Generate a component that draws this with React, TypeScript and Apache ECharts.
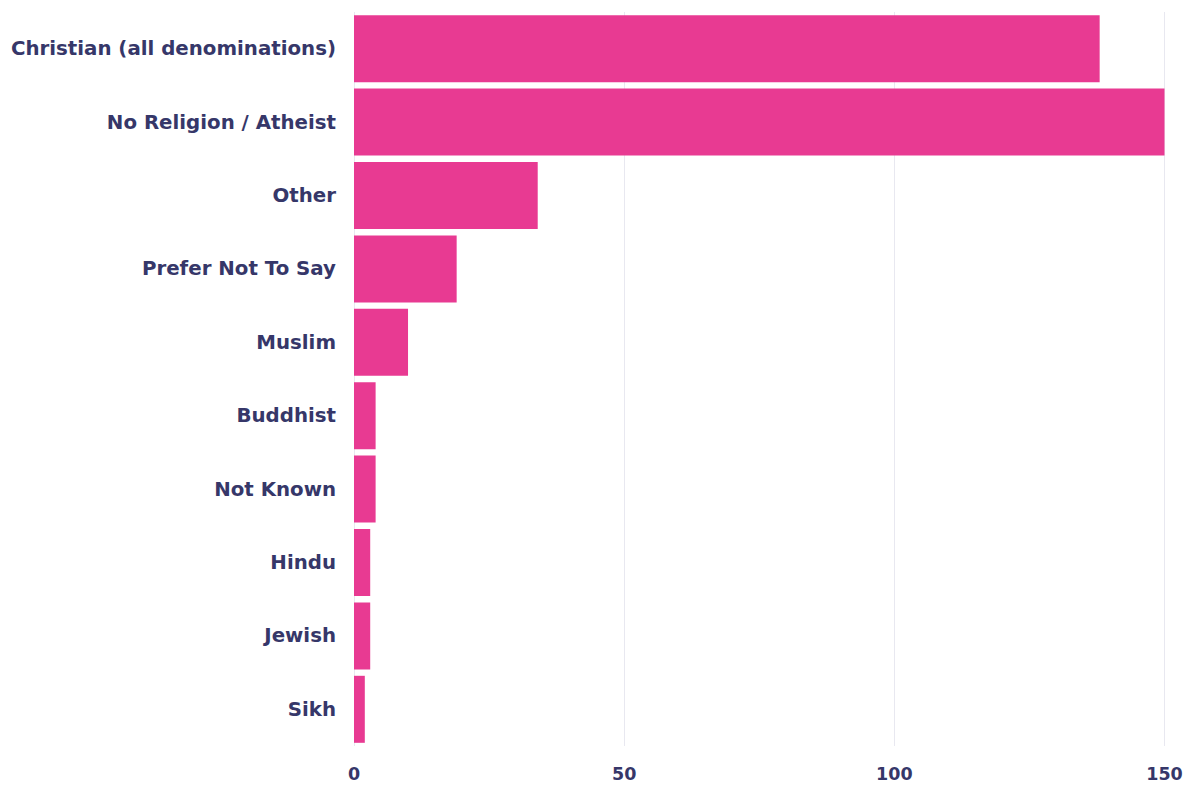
import React, { useEffect, useRef } from "react";
import * as echarts from "echarts";

const categories = [
  "Christian (all denominations)",
  "No Religion / Atheist",
  "Other",
  "Prefer Not To Say",
  "Muslim",
  "Buddhist",
  "Not Known",
  "Hindu",
  "Jewish",
  "Sikh",
];
const values = [138, 150, 34, 19, 10, 4, 4, 3, 3, 2];
const xTicks = [0, 50, 100, 150];

const TEXT = "#363769";
const BAR = "#E83A92";

export default function App() {
  const ref = useRef<HTMLDivElement>(null);
  useEffect(() => {
    document.body.style.margin = "0";
    const chart = echarts.init(ref.current!, null, { renderer: "svg" });
    chart.setOption({
      animation: false,
      backgroundColor: "#ffffff",
      grid: { left: 354, right: 27.5, top: 12, bottom: 64, containLabel: false },
      xAxis: {
        type: "value",
        min: xTicks[0],
        max: xTicks[xTicks.length - 1],
        interval: 50,
        axisLine: { show: false },
        axisTick: { show: false },
        splitLine: { show: true, lineStyle: { color: "#e8e8f0", width: 1 } },
        axisLabel: {
          color: TEXT,
          fontFamily: "DejaVu Sans",
          fontWeight: "bold",
          fontSize: 17.5,
          margin: 19,
        },
      },
      yAxis: {
        type: "category",
        inverse: true,
        data: categories,
        axisLine: { show: false },
        axisTick: { show: false },
        splitLine: { show: false },
        axisLabel: {
          color: TEXT,
          fontFamily: "DejaVu Sans",
          fontWeight: "bold",
          fontSize: 19.8,
          margin: 18,
        },
      },
      series: [
        {
          type: "bar",
          data: values,
          barCategoryGap: "8.7%",
          itemStyle: { color: BAR },
        },
      ],
    });
    return () => chart.dispose();
  }, []);
  return <div ref={ref} style={{ width: 1192, height: 810 }} />;
}
